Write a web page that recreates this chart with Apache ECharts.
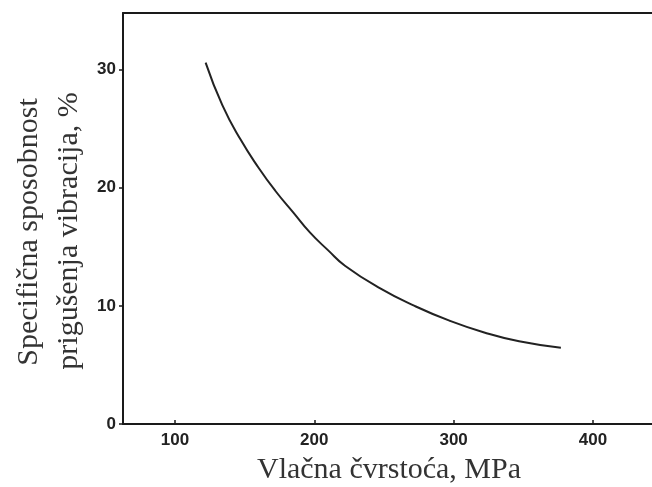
<!DOCTYPE html>
<html>
<head>
<meta charset="utf-8">
<script src="https://cdn.jsdelivr.net/npm/echarts@6/dist/echarts.min.js"></script>
<style>html,body{margin:0;padding:0;background:#fff;overflow:hidden}#c{width:652px;height:487px}</style>
</head>
<body>
<div id="c"></div>
<script>
const tensileStrength = [122, 134, 147, 160, 172, 185, 197, 210, 222, 247, 272, 297, 322, 347, 377];
const dampingCapacity = [30.6, 27.0, 24.1, 21.7, 19.75, 17.9, 16.2, 14.7, 13.4, 11.5, 10.0, 8.75, 7.75, 7.0, 6.45];
const xTicks = [100, 200, 300, 400];
const yTicks = [0, 10, 20, 30];
const xTitle = 'Vlačna čvrstoća, MPa';
const yTitleLines = ['Specifična sposobnost', 'prigušenja vibracija, %'];

const chart = echarts.init(document.getElementById('c'));
const axisColor = '#1a1a1a';
const xMin = 62.7, xMax = 442.4;
chart.setOption({
  animation: false,
  backgroundColor: '#fff',
  grid: { left: 123, top: 13, right: 0, bottom: 63, show: false },
  xAxis: [{
    type: 'value', min: xMin, max: xMax,
    axisLine: { show: true, lineStyle: { color: axisColor, width: 2 } },
    axisTick: { show: true, customValues: xTicks, length: 4, inside: true, lineStyle: { color: axisColor, width: 1.5 } },
    axisLabel: { customValues: xTicks, color: '#222', fontFamily: 'Liberation Sans', fontWeight: 'bold', fontSize: 17, margin: 8 },
    splitLine: { show: false }
  }, {
    type: 'value', position: 'top', min: xMin, max: xMax,
    axisLine: { show: true, lineStyle: { color: axisColor, width: 2 } },
    axisTick: { show: false }, axisLabel: { show: false }, splitLine: { show: false }
  }],
  yAxis: {
    type: 'value', min: 0, max: 34.8,
    axisLine: { show: true, lineStyle: { color: axisColor, width: 2 } },
    axisTick: { show: true, customValues: yTicks, length: 4, lineStyle: { color: axisColor, width: 1.5 } },
    axisLabel: { customValues: yTicks, color: '#222', fontFamily: 'Liberation Sans', fontWeight: 'bold', fontSize: 17, margin: 7 },
    splitLine: { show: false }
  },
  graphic: [
    { type: 'text', x: 389, y: 470, style: { text: xTitle, font: '30px "Liberation Serif"', fill: '#333', textAlign: 'center', textVerticalAlign: 'middle' } },
    { type: 'text', x: 29, y: 232, rotation: Math.PI / 2, style: { text: yTitleLines[0], font: '30px "Liberation Serif"', fill: '#333', textAlign: 'center', textVerticalAlign: 'middle' } },
    { type: 'text', x: 69, y: 231, rotation: Math.PI / 2, style: { text: yTitleLines[1], font: '30px "Liberation Serif"', fill: '#333', textAlign: 'center', textVerticalAlign: 'middle' } }
  ],
  series: [{
    type: 'line', smooth: 0.5, showSymbol: false, xAxisIndex: 0,
    data: tensileStrength.map((x, i) => [x, dampingCapacity[i]]),
    lineStyle: { color: '#222', width: 2 }
  }]
});
</script>
</body>
</html>
